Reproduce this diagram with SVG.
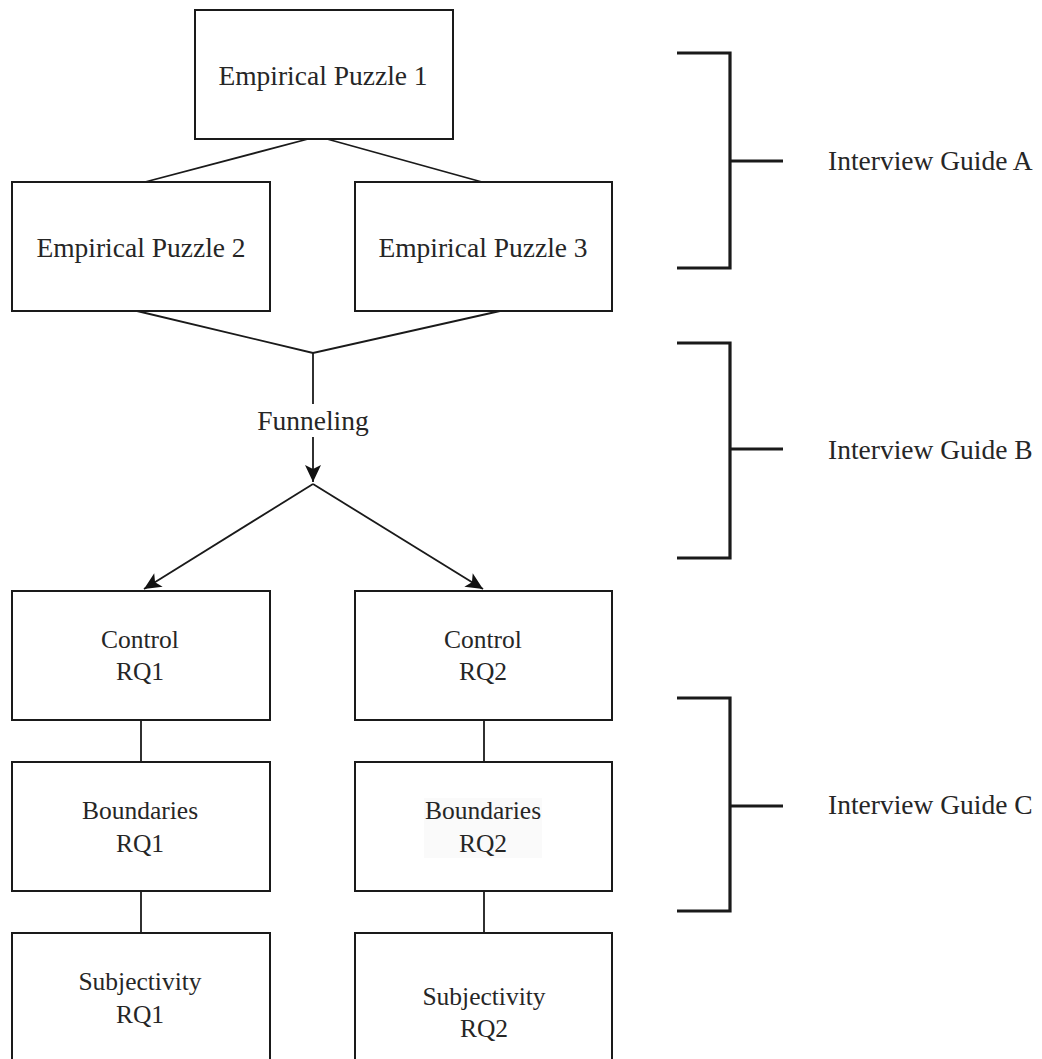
<svg xmlns="http://www.w3.org/2000/svg" width="1042" height="1059" viewBox="0 0 1042 1059">
  <style>
    .box { fill: #ffffff; stroke: #1a1a1a; stroke-width: 2; }
    .lbl { font-family: 'Liberation Serif', 'DejaVu Serif', serif; fill: #262626; text-anchor: middle; }
    .big { font-size: 27.5px; }
    .sm { font-size: 25.5px; }
    .side { font-family: 'Liberation Serif', 'DejaVu Serif', serif; font-size: 27.5px; fill: #262626; }
    .edge { fill: none; stroke: #1a1a1a; stroke-width: 1.8; }
    .bracket { fill: none; stroke: #1a1a1a; stroke-width: 3.2; }
  </style>
  <defs>
    <marker id="arrow" markerUnits="userSpaceOnUse" markerWidth="20" markerHeight="20" viewBox="0 0 20 20" refX="18" refY="10" orient="auto">
      <path d="M18,10 L1,2 L5,10 L1,18 Z" fill="#111111"/>
    </marker>
  </defs>

  <rect x="0" y="0" width="1042" height="1059" fill="#ffffff"/>

  <!-- connectors -->
  <g id="connectors">
    <path class="edge" d="M308,139 L145,182"/>
    <path class="edge" d="M327,139 L482,182"/>
    <path class="edge" d="M137,311 L313,353 L500,311"/>
    <path class="edge" d="M313,353 L313,404"/>
    <path class="edge" d="M313,437 L313,482" marker-end="url(#arrow)"/>
    <path class="edge" d="M313,484 L144,589" marker-end="url(#arrow)"/>
    <path class="edge" d="M313,484 L483,589" marker-end="url(#arrow)"/>
    <path class="edge" d="M141,720 L141,762"/>
    <path class="edge" d="M141,891 L141,933"/>
    <path class="edge" d="M484,720 L484,762"/>
    <path class="edge" d="M484,891 L484,933"/>
  </g>

  <!-- puzzle nodes -->
  <g id="puzzle1">
    <rect class="box" x="195" y="10" width="258" height="129"/>
    <text class="lbl big" x="323" y="85">Empirical Puzzle 1</text>
  </g>
  <g id="puzzle2">
    <rect class="box" x="12" y="182" width="258" height="129"/>
    <text class="lbl big" x="141" y="257">Empirical Puzzle 2</text>
  </g>
  <g id="puzzle3">
    <rect class="box" x="355" y="182" width="257" height="129"/>
    <text class="lbl big" x="483" y="257">Empirical Puzzle 3</text>
  </g>

  <g id="funneling">
    <text class="lbl big" x="313" y="430">Funneling</text>
  </g>

  <!-- research question nodes -->
  <g id="control-rq1">
    <rect class="box" x="12" y="591" width="258" height="129"/>
    <text class="lbl sm" x="140" y="648">Control</text>
    <text class="lbl sm" x="140" y="680">RQ1</text>
  </g>
  <g id="control-rq2">
    <rect class="box" x="355" y="591" width="257" height="129"/>
    <text class="lbl sm" x="483" y="648">Control</text>
    <text class="lbl sm" x="483" y="680">RQ2</text>
  </g>
  <g id="boundaries-rq1">
    <rect class="box" x="12" y="762" width="258" height="129"/>
    <text class="lbl sm" x="140" y="819">Boundaries</text>
    <text class="lbl sm" x="140" y="852">RQ1</text>
  </g>
  <g id="boundaries-rq2">
    <rect class="box" x="355" y="762" width="257" height="129"/>
    <rect x="424" y="798" width="118" height="60" fill="#fafafa"/>
    <text class="lbl sm" x="483" y="819">Boundaries</text>
    <text class="lbl sm" x="483" y="852">RQ2</text>
  </g>
  <g id="subjectivity-rq1">
    <rect class="box" x="12" y="933" width="258" height="140"/>
    <text class="lbl sm" x="140" y="990">Subjectivity</text>
    <text class="lbl sm" x="140" y="1023">RQ1</text>
  </g>
  <g id="subjectivity-rq2">
    <rect class="box" x="355" y="933" width="257" height="140"/>
    <text class="lbl sm" x="484" y="1005">Subjectivity</text>
    <text class="lbl sm" x="484" y="1037">RQ2</text>
  </g>

  <!-- interview guide brackets -->
  <g id="guide-a">
    <path class="bracket" d="M677,53 L730,53 L730,268 L677,268 M730,161 L783,161"/>
    <text class="side" x="828" y="170">Interview Guide A</text>
  </g>
  <g id="guide-b">
    <path class="bracket" d="M677,343 L730,343 L730,558 L677,558 M730,449 L783,449"/>
    <text class="side" x="828" y="459">Interview Guide B</text>
  </g>
  <g id="guide-c">
    <path class="bracket" d="M677,698 L730,698 L730,911 L677,911 M730,806 L783,806"/>
    <text class="side" x="828" y="814">Interview Guide C</text>
  </g>
</svg>
